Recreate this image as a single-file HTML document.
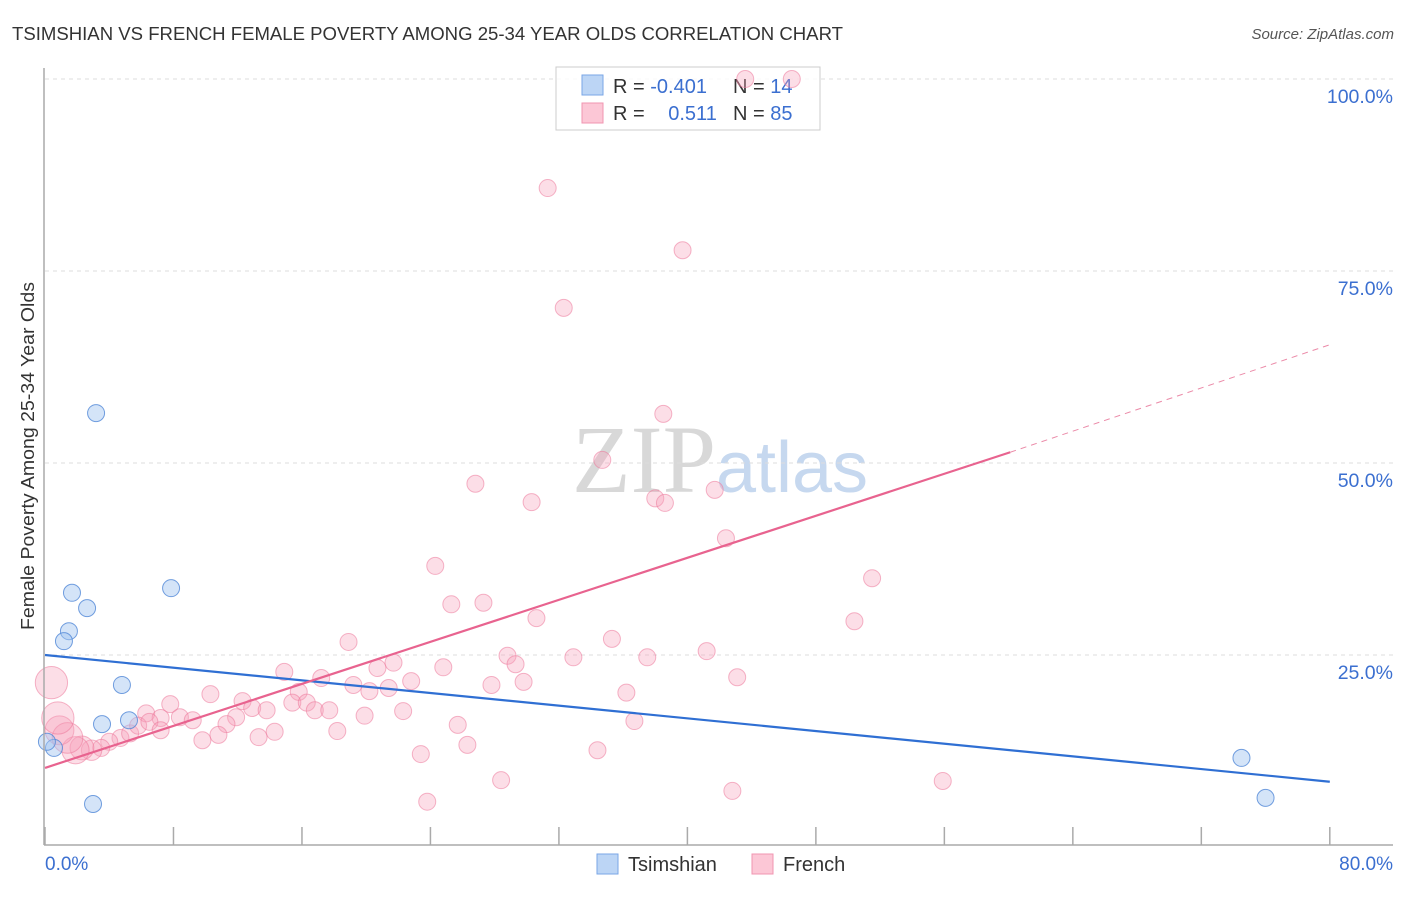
<!DOCTYPE html>
<html><head><meta charset="utf-8"><style>
body{margin:0;background:#fff;font-family:"Liberation Sans",sans-serif}
svg text{font-family:"Liberation Sans",sans-serif}
</style></head><body>
<svg id="c" width="1406" height="892" viewBox="0 0 1406 892" xmlns="http://www.w3.org/2000/svg">
<text x="12" y="40" font-size="18" fill="#333" textLength="831" lengthAdjust="spacingAndGlyphs">TSIMSHIAN VS FRENCH FEMALE POVERTY AMONG 25-34 YEAR OLDS CORRELATION CHART</text>
<text x="1394" y="39" font-size="15" fill="#555" font-style="italic" text-anchor="end">Source: ZipAtlas.com</text>
<text x="720" y="492" font-size="96" fill="#ddd" text-anchor="middle" font-family="Liberation Serif"><tspan font-family="Liberation Serif" fill="#d8d8d8">ZIP</tspan><tspan font-family="Liberation Sans" fill="#c6d8ef" font-size="72">atlas</tspan></text>
<g id="grid"></g>
<g>
<rect x="556" y="67" width="264" height="63" fill="rgba(255,255,255,0.8)" stroke="#ccc"/>
<rect x="582" y="75" width="21" height="20" fill="#bcd5f5" stroke="#7aa6e6"/>
<rect x="582" y="103" width="21" height="20" fill="#fcc7d6" stroke="#f095b0"/>
<text x="613" y="93" font-size="20" fill="#333">R = <tspan fill="#3b6fd0">-0.401</tspan></text>
<text x="733" y="93" font-size="20" fill="#333">N = <tspan fill="#3b6fd0"> 14</tspan></text>
<text x="613" y="120" font-size="20" fill="#333">R = <tspan fill="#3b6fd0" dx="18">0.511</tspan></text>
<text x="733" y="120" font-size="20" fill="#333">N = <tspan fill="#3b6fd0">85</tspan></text>
</g>
<g id="pts"></g>
<g id="lines"></g>
<line x1="44" y1="68" x2="44" y2="845" stroke="#aaa" stroke-width="1.5"/>
<line x1="44" y1="845" x2="1393" y2="845" stroke="#aaa" stroke-width="1.5"/>
<text transform="translate(34,456) rotate(-90)" font-size="18" fill="#333" text-anchor="middle" textLength="348" lengthAdjust="spacingAndGlyphs">Female Poverty Among 25-34 Year Olds</text>
<text x="45" y="870" font-size="19" fill="#3b6fd0">0.0%</text>
<text x="1393" y="870" font-size="19" fill="#3b6fd0" text-anchor="end">80.0%</text>
<g>
<rect x="597" y="854" width="21" height="20" fill="#bcd5f5" stroke="#7aa6e6"/>
<text x="628" y="871" font-size="20" fill="#333">Tsimshian</text>
<rect x="752" y="854" width="21" height="20" fill="#fcc7d6" stroke="#f095b0"/>
<text x="783" y="871" font-size="20" fill="#333">French</text>
</g>
</svg>
<script>
const yTicks=[25,50,75,100];
const yTickLabels=["25.0%","50.0%","75.0%","100.0%"];
const xTicks=[0,8,16,24,32,40,48,56,64,72,80];
const tsX=[3.18,1.68,2.62,1.49,1.18,7.85,4.79,3.55,5.23,0.56,0.12,2.99,74.5,76.0];
const tsY=[56.5,33.1,31.1,28.1,26.8,33.7,21.1,16.0,16.5,12.9,13.7,5.6,11.6,6.4];
const frX=[31.3,39.7,32.3,46.5,43.6,38.5,34.7,26.8,30.3,38.0,38.6,41.7,42.4,24.3,25.3,27.3,30.6,51.5,50.4,18.9,35.3,28.8,29.3,32.9,37.5,41.2,24.8,20.7,21.7,14.9,17.2,19.2,20.2,21.4,22.8,27.8,29.8,36.2,43.1,15.8,10.3,12.3,7.8,15.4,16.3,16.8,17.7,12.9,13.8,8.4,9.2,11.9,11.3,22.3,19.9,25.7,36.7,6.3,7.2,18.2,14.3,13.3,10.8,9.8,4.7,5.3,5.8,4.0,3.5,2.9,2.3,1.9,0.9,1.4,0.4,0.8,23.4,26.3,34.4,28.4,55.9,42.8,23.8,6.5,7.2];
const frY=[85.8,77.7,70.2,100,100,56.4,50.4,47.3,44.9,45.4,44.8,46.5,40.2,36.6,31.6,31.8,29.8,35.0,29.4,26.7,27.1,24.9,23.8,24.7,24.7,25.5,23.4,23.3,24.0,22.8,22.0,21.1,20.3,20.7,21.6,21.1,21.5,20.1,22.1,20.2,19.9,19.0,18.6,18.8,18.8,17.8,17.8,18.1,17.8,16.9,16.5,16.9,16.0,17.7,17.1,15.9,16.4,17.4,16.8,15.1,15.0,14.3,14.6,13.9,14.2,14.8,15.8,13.7,12.9,12.6,12.9,12.6,15.2,14.2,21.4,16.8,12.1,13.3,12.6,8.7,8.6,7.3,5.9,16.3,15.2];
const frW=[1,1,1,1,1,1,1,1,1,1,1,1,1,1,1,1,1,1,1,1,1,1,1,1,1,1,1,1,1,1,1,1,1,1,1,1,1,1,1,1,1,1,1,1,1,1,1,1,1,1,1,1,1,1,1,1,1,1,1,1,1,1,1,1,1,1,1,1,1,1.2,1.4,1.6,1.7,1.8,1.9,1.9,1,1,1,1,1,1,1,1,1];
const blueLine=[[0,25.0],[80,8.5]];
const pinkLine=[[0,10.3],[60.1,51.4],[80,65.4]];
const NS='http://www.w3.org/2000/svg';
const sx=v=>45+v*16.06, sy=v=>847-v*7.68;
function mk(t,a,p){const e=document.createElementNS(NS,t);for(const k in a)e.setAttribute(k,a[k]);p.appendChild(e);return e;}
const grid=document.getElementById('grid'),pts=document.getElementById('pts'),lines=document.getElementById('lines'),svg=document.getElementById('c');
yTicks.forEach((t,i)=>{
 const l=mk('line',{x1:45,x2:1393,y1:sy(t),y2:sy(t),stroke:'#ddd','stroke-dasharray':'4,4'},grid);
 
 
 const tx=mk('text',{x:1393,y:sy(t)+24,'font-size':19.5,fill:'#3b6fd0','text-anchor':'end'},svg);
 tx.textContent=yTickLabels[i];
 
 
});
xTicks.forEach(t=>{
 const l=mk('line',{x1:sx(t),x2:sx(t),y1:827,y2:845,stroke:'#aaa','stroke-width':1.5},svg);
 
 
});
frX.forEach((x,i)=>{
 const c=mk('circle',{cx:sx(x),cy:sy(frY[i]),r:8.5*frW[i],fill:'rgba(247,160,187,0.35)',stroke:'rgba(236,120,155,0.55)','stroke-width':1},pts);
 
 
});
tsX.forEach((x,i)=>{
 const c=mk('circle',{cx:sx(x),cy:sy(tsY[i]),r:8.5,fill:'rgba(160,196,240,0.45)',stroke:'rgba(80,135,215,0.8)','stroke-width':1},pts);
 
 
});
const b=mk('line',{x1:sx(blueLine[0][0]),y1:sy(blueLine[0][1]),x2:sx(blueLine[1][0]),y2:sy(blueLine[1][1]),stroke:'#2f6fd3','stroke-width':2.2},lines);


const p=mk('line',{x1:sx(pinkLine[0][0]),y1:sy(pinkLine[0][1]),x2:sx(pinkLine[1][0]),y2:sy(pinkLine[1][1]),stroke:'#e8638f','stroke-width':2.2},lines);


const pd=mk('line',{x1:sx(pinkLine[1][0]),y1:sy(pinkLine[1][1]),x2:sx(pinkLine[2][0]),y2:sy(pinkLine[2][1]),stroke:'#eb8aa8','stroke-width':1,'stroke-dasharray':'6,5'},lines);


</script>
</body></html>
